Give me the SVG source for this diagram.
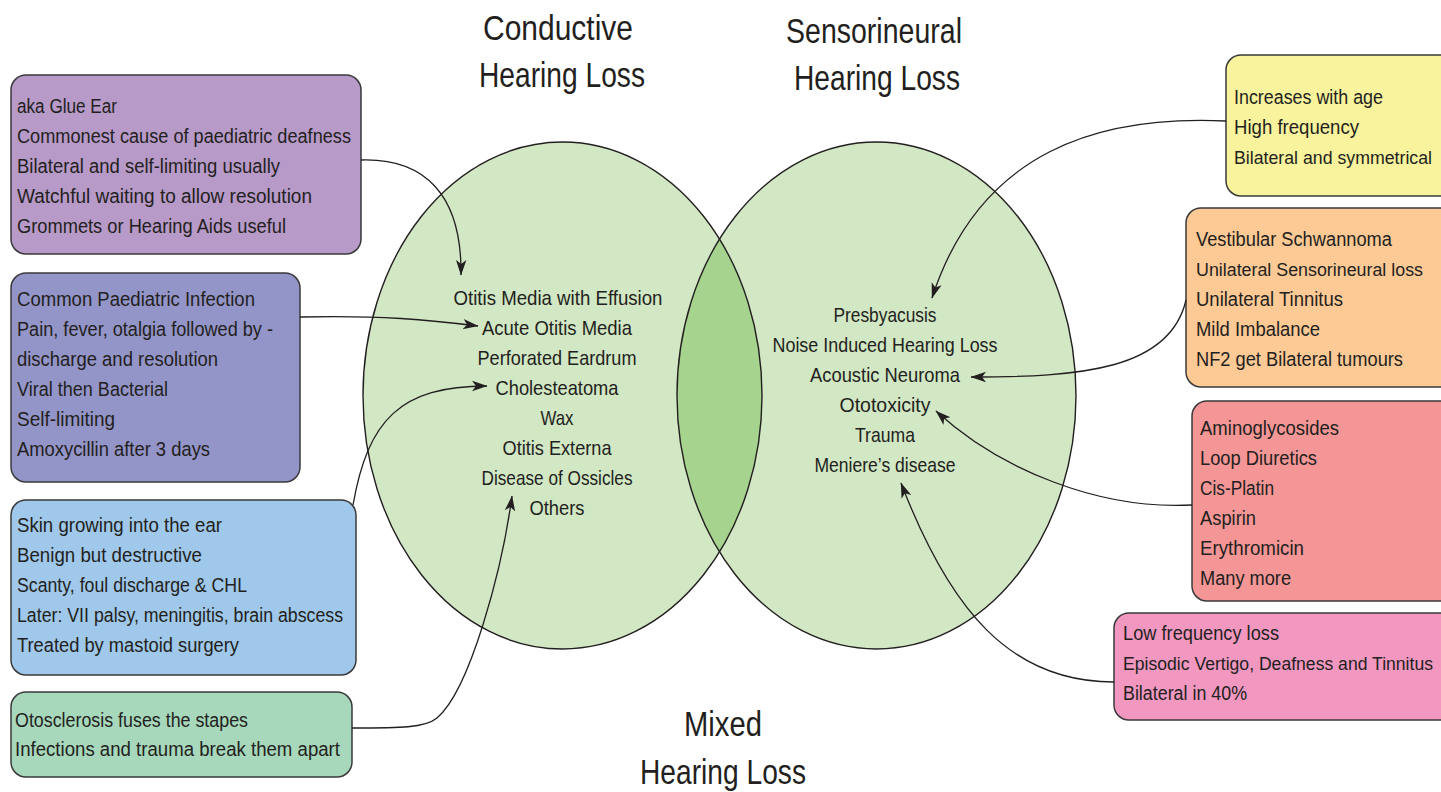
<svg xmlns="http://www.w3.org/2000/svg" width="1441" height="792" viewBox="0 0 1441 792">
<style>
text{font-family:"Liberation Sans",Arial,sans-serif;fill:#231f20}
.b{font-size:20px}
.s{font-size:17.5px}
.c{font-size:21px;text-anchor:middle}
.t{font-size:35px;text-anchor:middle}
.box{stroke:#3a3a3a;stroke-width:1.5}
.ell{fill:none;stroke:#231f20;stroke-width:1.4}
.con{fill:none;stroke:#231f20;stroke-width:1.3}
</style>
<defs>
<marker id="arr" viewBox="0 0 16 12" markerWidth="16" markerHeight="12" refX="15" refY="6" orient="auto" markerUnits="userSpaceOnUse">
<path d="M0,0.8 L15.5,6 L0,11.2 L4,6 z" fill="#231f20"/>
</marker>
<clipPath id="clipR"><ellipse cx="876.5" cy="395.5" rx="199.5" ry="253.5"/></clipPath>
</defs>
<rect width="1441" height="792" fill="#ffffff"/>

<g id="venn">
<g id="conductive-circle"><ellipse cx="562.5" cy="395.5" rx="199.5" ry="253.5" fill="#d2e7c4"/></g>
<g id="sensorineural-circle"><ellipse cx="876.5" cy="395.5" rx="199.5" ry="253.5" fill="#d2e7c4"/></g>
<g id="mixed-overlap"><ellipse cx="562.5" cy="395.5" rx="199.5" ry="253.5" fill="#a6d38d" clip-path="url(#clipR)"/></g>
<ellipse class="ell" cx="562.5" cy="395.5" rx="199.5" ry="253.5"/>
<ellipse class="ell" cx="876.5" cy="395.5" rx="199.5" ry="253.5"/>
</g>

<g id="titles">
<g id="title-conductive">
<text class="t" x="558" y="40" textLength="150" lengthAdjust="spacingAndGlyphs">Conductive</text>
<text class="t" x="562" y="87" textLength="166" lengthAdjust="spacingAndGlyphs">Hearing Loss</text>
</g>
<g id="title-sensorineural">
<text class="t" x="874" y="43" textLength="176" lengthAdjust="spacingAndGlyphs">Sensorineural</text>
<text class="t" x="877" y="90" textLength="166" lengthAdjust="spacingAndGlyphs">Hearing Loss</text>
</g>
<g id="title-mixed">
<text class="t" x="723" y="736" textLength="78" lengthAdjust="spacingAndGlyphs">Mixed</text>
<text class="t" x="723" y="784" textLength="166" lengthAdjust="spacingAndGlyphs">Hearing Loss</text>
</g>
</g>

<g id="conductive-list">
<text class="c" x="558" y="305" textLength="209" lengthAdjust="spacingAndGlyphs">Otitis Media with Effusion</text>
<text class="c" x="557" y="335" textLength="150" lengthAdjust="spacingAndGlyphs">Acute Otitis Media</text>
<text class="c" x="557" y="365" textLength="159" lengthAdjust="spacingAndGlyphs">Perforated Eardrum</text>
<text class="c" x="557" y="395" textLength="123" lengthAdjust="spacingAndGlyphs">Cholesteatoma</text>
<text class="c" x="557" y="425" textLength="33" lengthAdjust="spacingAndGlyphs">Wax</text>
<text class="c" x="557" y="455" textLength="109" lengthAdjust="spacingAndGlyphs">Otitis Externa</text>
<text class="c" x="557" y="485" textLength="151" lengthAdjust="spacingAndGlyphs">Disease of Ossicles</text>
<text class="c" x="557" y="515" textLength="55" lengthAdjust="spacingAndGlyphs">Others</text>
</g>

<g id="sensorineural-list">
<text class="c" x="885" y="322" textLength="103" lengthAdjust="spacingAndGlyphs">Presbyacusis</text>
<text class="c" x="885" y="352" textLength="225" lengthAdjust="spacingAndGlyphs">Noise Induced Hearing Loss</text>
<text class="c" x="885" y="382" textLength="150" lengthAdjust="spacingAndGlyphs">Acoustic Neuroma</text>
<text class="c" x="885" y="412" textLength="91" lengthAdjust="spacingAndGlyphs">Ototoxicity</text>
<text class="c" x="885" y="442" textLength="60" lengthAdjust="spacingAndGlyphs">Trauma</text>
<text class="c" x="885" y="472" textLength="141" lengthAdjust="spacingAndGlyphs">Meniere’s disease</text>
</g>

<g id="box-glue-ear">
<rect class="box" x="11" y="75" width="350" height="179" rx="15" fill="#b79ac8"/>
<text class="b" x="17" y="113" textLength="100" lengthAdjust="spacingAndGlyphs">aka Glue Ear</text>
<text class="b" x="17" y="143" textLength="334" lengthAdjust="spacingAndGlyphs">Commonest cause of paediatric deafness</text>
<text class="b" x="17" y="173" textLength="263" lengthAdjust="spacingAndGlyphs">Bilateral and self-limiting usually</text>
<text class="b" x="17" y="203" textLength="295" lengthAdjust="spacingAndGlyphs">Watchful waiting to allow resolution</text>
<text class="b" x="17" y="233" textLength="269" lengthAdjust="spacingAndGlyphs">Grommets or Hearing Aids useful</text>
</g>

<g id="box-acute-otitis">
<rect class="box" x="11" y="273" width="289" height="209" rx="15" fill="#9395c8"/>
<text class="b" x="17" y="306" textLength="238" lengthAdjust="spacingAndGlyphs">Common Paediatric Infection</text>
<text class="b" x="17" y="336" textLength="256" lengthAdjust="spacingAndGlyphs">Pain, fever, otalgia followed by -</text>
<text class="b" x="17" y="366" textLength="201" lengthAdjust="spacingAndGlyphs">discharge and resolution</text>
<text class="b" x="17" y="396" textLength="151" lengthAdjust="spacingAndGlyphs">Viral then Bacterial</text>
<text class="b" x="17" y="426" textLength="98" lengthAdjust="spacingAndGlyphs">Self-limiting</text>
<text class="b" x="17" y="456" textLength="193" lengthAdjust="spacingAndGlyphs">Amoxycillin after 3 days</text>
</g>

<g id="box-cholesteatoma">
<rect class="box" x="11" y="500" width="345" height="175" rx="15" fill="#9fc8ea"/>
<text class="b" x="17" y="532" textLength="205" lengthAdjust="spacingAndGlyphs">Skin growing into the ear</text>
<text class="b" x="17" y="562" textLength="185" lengthAdjust="spacingAndGlyphs">Benign but destructive</text>
<text class="b" x="17" y="592" textLength="230" lengthAdjust="spacingAndGlyphs">Scanty, foul discharge &amp; CHL</text>
<text class="b" x="17" y="622" textLength="326" lengthAdjust="spacingAndGlyphs">Later: VII palsy, meningitis, brain abscess</text>
<text class="b" x="17" y="652" textLength="222" lengthAdjust="spacingAndGlyphs">Treated by mastoid surgery</text>
</g>

<g id="box-ossicles">
<rect class="box" x="11" y="692" width="341" height="85" rx="15" fill="#a7d8bc"/>
<text class="b" x="15" y="727" textLength="233" lengthAdjust="spacingAndGlyphs">Otosclerosis fuses the stapes</text>
<text class="b" x="15" y="756" textLength="325" lengthAdjust="spacingAndGlyphs">Infections and trauma break them apart</text>
</g>

<g id="box-presbyacusis">
<path class="box" fill="#f8f39c" d="M1443,55 H1241 A15,15 0 0 0 1226,70 V181 A15,15 0 0 0 1241,196 H1443"/>
<text class="b" x="1234" y="104" textLength="149" lengthAdjust="spacingAndGlyphs">Increases with age</text>
<text class="b" x="1234" y="134" textLength="125" lengthAdjust="spacingAndGlyphs">High frequency</text>
<text class="s" x="1234" y="164" textLength="198" lengthAdjust="spacingAndGlyphs">Bilateral and symmetrical</text>
</g>

<g id="box-acoustic-neuroma">
<path class="box" fill="#fdc995" d="M1443,208 H1201 A15,15 0 0 0 1186,223 V372 A15,15 0 0 0 1201,387 H1443"/>
<text class="b" x="1196" y="246" textLength="196" lengthAdjust="spacingAndGlyphs">Vestibular Schwannoma</text>
<text class="s" x="1196" y="276" textLength="227" lengthAdjust="spacingAndGlyphs">Unilateral Sensorineural loss</text>
<text class="b" x="1196" y="306" textLength="147" lengthAdjust="spacingAndGlyphs">Unilateral Tinnitus</text>
<text class="b" x="1196" y="336" textLength="124" lengthAdjust="spacingAndGlyphs">Mild Imbalance</text>
<text class="b" x="1196" y="366" textLength="207" lengthAdjust="spacingAndGlyphs">NF2 get Bilateral tumours</text>
</g>

<g id="box-ototoxicity">
<path class="box" fill="#f49696" d="M1443,401 H1207 A15,15 0 0 0 1192,416 V586 A15,15 0 0 0 1207,601 H1443"/>
<text class="b" x="1200" y="435" textLength="139" lengthAdjust="spacingAndGlyphs">Aminoglycosides</text>
<text class="b" x="1200" y="465" textLength="117" lengthAdjust="spacingAndGlyphs">Loop Diuretics</text>
<text class="b" x="1200" y="495" textLength="74" lengthAdjust="spacingAndGlyphs">Cis-Platin</text>
<text class="b" x="1200" y="525" textLength="56" lengthAdjust="spacingAndGlyphs">Aspirin</text>
<text class="b" x="1200" y="555" textLength="104" lengthAdjust="spacingAndGlyphs">Erythromicin</text>
<text class="b" x="1200" y="585" textLength="91" lengthAdjust="spacingAndGlyphs">Many more</text>
</g>

<g id="box-menieres">
<path class="box" fill="#f298c0" d="M1443,613 H1129 A15,15 0 0 0 1114,628 V705 A15,15 0 0 0 1129,720 H1443"/>
<text class="b" x="1123" y="640" textLength="156" lengthAdjust="spacingAndGlyphs">Low frequency loss</text>
<text class="s" x="1123" y="670" textLength="310" lengthAdjust="spacingAndGlyphs">Episodic Vertigo, Deafness and Tinnitus</text>
<text class="b" x="1123" y="700" textLength="124" lengthAdjust="spacingAndGlyphs">Bilateral in 40%</text>
</g>

<g id="connectors">
<path class="con" marker-end="url(#arr)" d="M361,160 C425,158 462,195 461,275"/>
<path class="con" marker-end="url(#arr)" d="M300,317 C380,315 430,320 478,326"/>
<path class="con" marker-end="url(#arr)" d="M353,505 C368,420 400,386 487,386"/>
<path class="con" marker-end="url(#arr)" d="M352,728 C400,728 425,728 437,718 C470,690 502,570 512,496"/>
<path class="con" marker-end="url(#arr)" d="M1226,121 C1100,115 980,150 932,298"/>
<path class="con" marker-end="url(#arr)" d="M1186,300 C1170,370 1080,377 971,377"/>
<path class="con" marker-end="url(#arr)" d="M1192,505 C1100,510 1000,470 936,411"/>
<path class="con" marker-end="url(#arr)" d="M1114,682 C1010,682 950,610 901,483"/>
</g>
</svg>
